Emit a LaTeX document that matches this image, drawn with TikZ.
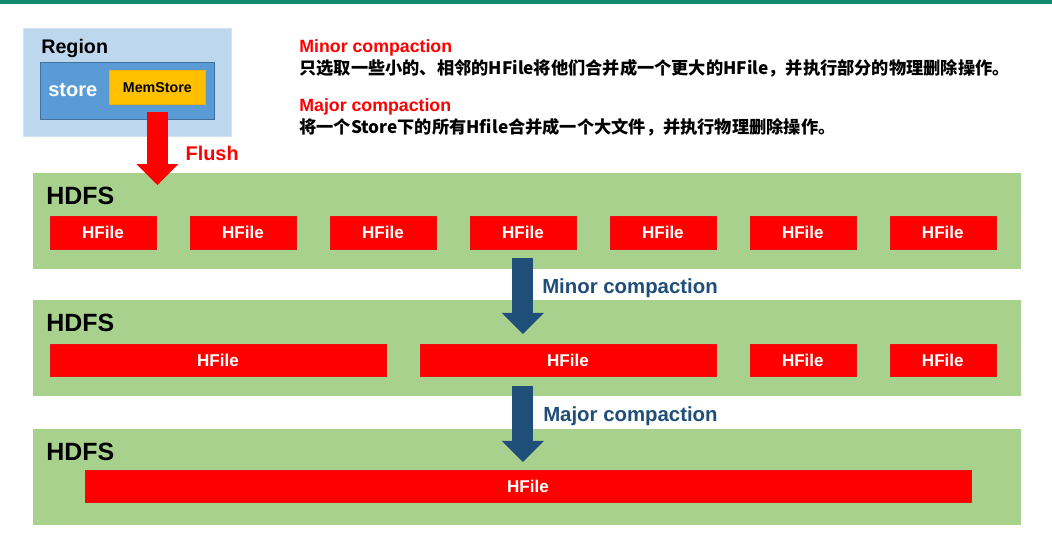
\documentclass[tikz,border=0pt]{standalone}
\usepackage{fontspec}
\setmainfont{Liberation Sans}
\newfontfamily\cjk{Noto Sans CJK SC}
\usetikzlibrary{arrows.meta,positioning,calc}
\definecolor{Teal}{HTML}{138A6E}
\definecolor{RegionBlue}{HTML}{BDD7EE}
\definecolor{RegionLine}{HTML}{D3E2F3}
\definecolor{StoreBlue}{HTML}{5B9BD5}
\definecolor{StoreLine}{HTML}{41719C}
\definecolor{MemYellow}{HTML}{FFC000}
\definecolor{MemLine}{HTML}{EDB200}
\definecolor{HdfsGreen}{HTML}{A9D18E}
\definecolor{FileRed}{HTML}{FF0000}
\definecolor{FileLine}{HTML}{E81010}
\definecolor{Navy}{HTML}{1F4E79}
\tikzset{
  band/.style={fill=HdfsGreen,minimum width=19.76cm,minimum height=1.92cm,
    anchor=north west,inner sep=0pt,outer sep=0pt},
  bandlabel/.style={anchor=west,inner sep=0pt,font=\fontsize{14.2}{16}\selectfont\bfseries},
  hfile/.style={fill=FileRed,draw=FileLine,line width=0.3pt,minimum width=2.12cm,
    minimum height=0.64cm,inner sep=0pt,outer sep=0pt,text=white,
    font=\fontsize{9.7}{11}\selectfont\bfseries},
  plain/.style={anchor=west,inner sep=0pt,font=\bfseries},
  blockarrow/.style={line width=0.42cm,
    -{Triangle[length=0.42cm,width=0.84cm,line width=0pt]}},
  note/.style={anchor=west,inner sep=0pt,font=\fontsize{10.1}{12}\selectfont\bfseries,text=FileRed},
  cjkline/.style={anchor=west,inner sep=0pt,font=\cjk\fontsize{9.8}{12}\selectfont\bfseries}
}
\begin{document}
\begin{tikzpicture}[x=0.02cm,y=-0.02cm]
  \useasboundingbox[fill=white] (0,0) rectangle (1052,535);
  \fill[Teal] (0,0) rectangle (1052,4);

  % region with its store
  \node[fill=RegionBlue,draw=RegionLine,minimum width=4.16cm,minimum height=2.16cm,
    anchor=north west,inner sep=0pt] (region) at (23,28) {};
  \node[plain,font=\fontsize{11.2}{13}\selectfont\bfseries] (regionlbl) at (41,48) {Region};
  \node[fill=StoreBlue,draw=StoreLine,minimum width=3.48cm,minimum height=1.14cm,
    anchor=north west,inner sep=0pt] (store) at (40,62) {};
  \node[plain,text=white,font=\fontsize{11.4}{13}\selectfont\bfseries] (storelbl) at (48,90) {store};
  \node[fill=MemYellow,draw=MemLine,minimum width=1.92cm,minimum height=0.68cm,
    anchor=north west,inner sep=0pt,font=\fontsize{8.1}{10}\selectfont\bfseries] (mem) at (109,70) {MemStore};

  % notes
  \node[note] (minornote) at (299,48) {Minor compaction};
  \node[cjkline] (minortext) at (299,68) {只选取一些小的、相邻的HFile将他们合并成一个更大的HFile，并执行部分的物理删除操作。};
  \node[note] (majornote) at (299,107) {Major compaction};
  \node[cjkline] (majortext) at (299,127) {将一个Store下的所有Hfile合并成一个大文件，并执行物理删除操作。};

  % HDFS stages
  \node[band] (hdfsA) at (33,173) {};
  \node[band,below=0.62cm of hdfsA] (hdfsB) {};
  \node[band,below=0.66cm of hdfsB] (hdfsC) {};
  \node[bandlabel] at ($(hdfsA.north west)+(13,23)$) {HDFS};
  \node[bandlabel] at ($(hdfsB.north west)+(13,23)$) {HDFS};
  \node[bandlabel] at ($(hdfsC.north west)+(13,23)$) {HDFS};

  \node[hfile,anchor=north west,minimum height=0.66cm] (a1) at ($(hdfsA.north west)+(17,43)$) {HFile};
  \node[hfile,minimum height=0.66cm,right=0.68cm of a1] (a2) {HFile};
  \node[hfile,minimum height=0.66cm,right=0.68cm of a2] (a3) {HFile};
  \node[hfile,minimum height=0.66cm,right=0.68cm of a3] (a4) {HFile};
  \node[hfile,minimum height=0.66cm,right=0.68cm of a4] (a5) {HFile};
  \node[hfile,minimum height=0.66cm,right=0.68cm of a5] (a6) {HFile};
  \node[hfile,minimum height=0.66cm,right=0.68cm of a6] (a7) {HFile};

  \node[hfile,anchor=north west,minimum width=6.72cm] (b1) at ($(hdfsB.north west)+(17,44)$) {HFile};
  \node[hfile,minimum width=5.92cm,right=0.68cm of b1] (b2) {HFile};
  \node[hfile,right=0.68cm of b2] (b3) {HFile};
  \node[hfile,right=0.68cm of b3] (b4) {HFile};

  \node[hfile,anchor=north west,minimum width=17.72cm] (c1) at ($(hdfsC.north west)+(52,41)$) {HFile};

  % arrows
  \draw[blockarrow,FileRed] ($(mem.south)+(0,7)$) -- ($(mem.south |- hdfsA.north)+(0,12)$);
  \node[plain,text=FileRed,font=\fontsize{11.3}{13}\selectfont\bfseries] (flush) at ($(mem.south)+(28,49)$) {Flush};

  \draw[blockarrow,Navy] ($(a4.south)+(0,9)$) -- ($(a4.south |- hdfsB.north)+(0,34)$);
  \node[plain,text=Navy,font=\fontsize{11.6}{13}\selectfont\bfseries] (minorlbl) at ($(a4.south |- hdfsB.north)+(19,-12)$) {Minor compaction};

  \draw[blockarrow,Navy] ($(a4.south |- b2.south)+(0,10)$) -- ($(a4.south |- hdfsC.north)+(0,33)$);
  \node[plain,text=Navy,font=\fontsize{11.6}{13}\selectfont\bfseries] (majorlbl) at ($(a4.south |- hdfsC.north)+(20,-13)$) {Major compaction};
\end{tikzpicture}
\end{document}
